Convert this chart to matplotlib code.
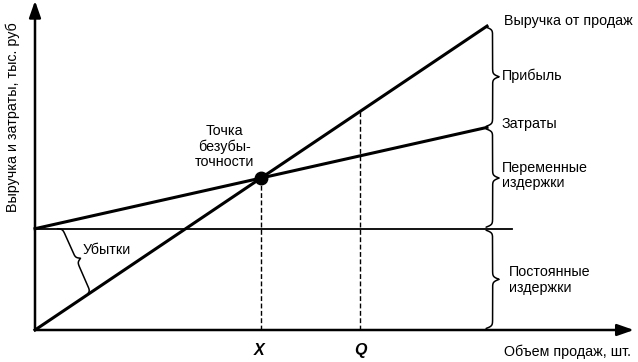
import numpy as np
import matplotlib
matplotlib.use("Agg")
import matplotlib.pyplot as plt

# break-even model (units of volume, thousand rub)
fixed_cost = 100.0
var_cost_per_unit = 1.0
price = 3.0
volume_end = 100.0       # where revenue / cost lines stop
fixed_line_end = 105.5
q_volume = 72.0
axis_x_end = 132.5
axis_y_end = 325.0

labels = {
    "revenue": "Выручка от продаж",
    "profit": "Прибыль",
    "costs": "Затраты",
    "variable": "Переменные\nиздержки",
    "fixed": "Постоянные\nиздержки",
    "loss": "Убытки",
    "bep": "Точка\nбезубы-\nточности",
    "xlabel": "Объем продаж, шт.",
    "ylabel": "Выручка и затраты, тыс. руб",
}

plt.rcParams["font.family"] = ["Liberation Sans", "DejaVu Sans"]

fig = plt.figure(figsize=(6.38, 3.62), dpi=100)
ax = fig.add_axes([0, 0, 1, 1])
ax.set_xlim(-35 / 4.52, 603 / 4.52)
ax.set_ylim(-32 / 1.013, 330 / 1.013)
ax.axis("off")


def revenue(q):
    return price * q


def costs(q):
    return fixed_cost + var_cost_per_unit * q


bep_q = fixed_cost / (price - var_cost_per_unit)


def brace(p0, p1, width=13, beta=0.8, lw=1.1):
    # curly brace between two data points, cusp on the right of p0->p1
    a = ax.transData.transform(p0)
    b = ax.transData.transform(p1)
    d = b - a
    L = np.hypot(*d)
    t = d / L
    n = np.array([t[1], -t[0]])
    if n[0] < 0:
        n = -n
    u = np.linspace(0, L / 2, 200)
    v = (1 / (1 + np.exp(-beta * u)) + 1 / (1 + np.exp(-beta * (u - L / 2)))) - 0.5
    u = np.concatenate([u, L - u[::-1]])
    v = np.concatenate([v, v[::-1]]) * width
    pts = a + np.outer(u, t) + np.outer(v, n)
    pts = ax.transData.inverted().transform(pts)
    ax.plot(pts[:, 0], pts[:, 1], color="k", lw=lw, solid_capstyle="round")


q = np.array([0, volume_end])
ax.plot([0, fixed_line_end], [fixed_cost, fixed_cost], color="k", lw=1.3)
ax.plot(q, revenue(q), color="k", lw=2.2)
ax.plot(q, costs(q), color="k", lw=2.2)

# axes with arrows
arrow = dict(arrowstyle="-|>,head_length=1.0,head_width=0.35", lw=1.8,
             color="k", shrinkA=0, shrinkB=0)
ax.annotate("", xy=(axis_x_end, 0), xytext=(0, 0), arrowprops=arrow)
ax.annotate("", xy=(0, axis_y_end), xytext=(0, 0), arrowprops=arrow)

# dashed projections
ax.plot([bep_q, bep_q], [0, revenue(bep_q)], color="k", lw=1.0, ls=(0, (3.5, 1.8)))
ax.plot([q_volume, q_volume], [0, revenue(q_volume)], color="k", lw=1.0, ls=(0, (3.5, 1.8)))
ax.plot([bep_q], [revenue(bep_q)], "o", color="k", ms=9)

# braces on the right
bx = volume_end - 0.2
brace((bx, costs(volume_end) + 1), (bx, revenue(volume_end) - 1))
brace((bx, fixed_cost + 1.5), (bx, costs(volume_end) - 1.5))
brace((bx, 1.5), (bx, fixed_cost - 1.5))
loss_a = 5.0
loss_b = 11.5
brace((loss_a, fixed_cost), (loss_b, revenue(loss_b)), width=9)

fs = 10.3
ax.text(132.2, 305, labels["revenue"], fontsize=fs, va="center", ha="right")
ax.text(103.3, 250.5, labels["profit"], fontsize=fs, va="center", ha="left")
ax.text(103.3, 203, labels["costs"], fontsize=fs, va="center", ha="left")
ax.text(103.3, 152.5, labels["variable"], fontsize=fs, va="center", ha="left",
        linespacing=1.15)
ax.text(104.9, 49.5, labels["fixed"], fontsize=fs, va="center", ha="left",
        linespacing=1.15)
ax.text(10.5, 79, labels["loss"], fontsize=fs, va="center", ha="left")
ax.text(42, 181, labels["bep"], fontsize=fs, va="center", ha="center",
        linespacing=1.1)
ax.text(bep_q - 0.5, -19.8, "X", fontsize=11.5, va="center", ha="center",
        style="italic", weight="bold")
ax.text(q_volume, -19.8, "Q", fontsize=11.5, va="center", ha="center",
        style="italic", weight="bold")
ax.text(131.8, -21.8, labels["xlabel"], fontsize=fs, va="center", ha="right")
ax.text(-4.9, 210, labels["ylabel"], fontsize=fs, va="center", ha="center",
        rotation=90)

fig.savefig("out.png", dpi=100)
